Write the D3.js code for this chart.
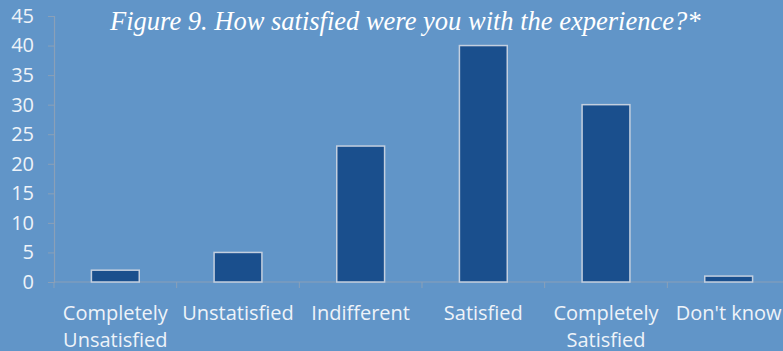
<!DOCTYPE html>
<html>
<head>
<meta charset="utf-8">
<script src="https://cdn.jsdelivr.net/npm/d3@7"></script>
<style>
  html, body { margin: 0; padding: 0; background: #6195c8; overflow: hidden; }
  svg { display: block; }
  text { font-variant-ligatures: none; }
</style>
</head>
<body>
<svg id="chart" width="783" height="351"></svg>
<script>
// Survey responses: satisfaction with the experience
const categories = [
  ["Completely", "Unsatisfied"],
  ["Unstatisfied"],
  ["Indifferent"],
  ["Satisfied"],
  ["Completely", "Satisfied"],
  ["Don't know"]
];
const values = [2, 5, 23, 40, 30, 1];
const yTicks = [0, 5, 10, 15, 20, 25, 30, 35, 40, 45];
const title = "Figure 9. How satisfied were you with the experience?*";

const svg = d3.select("#chart");
const W = 783, H = 351;
const labelFont = "'Open Sans', Lato, sans-serif";

svg.append("rect").attr("width", W).attr("height", H).attr("fill", "#6195c8");

const x = d3.scaleBand()
  .domain(d3.range(categories.length))
  .range([54, 790])
  .paddingInner(0.61)
  .paddingOuter(0.305);

const y = d3.scaleLinear().domain([0, 45]).range([282, 16]);

// Y axis
const yAxis = svg.append("g")
  .attr("transform", "translate(54,0)")
  .call(d3.axisLeft(y).tickValues(yTicks).tickSize(6).tickPadding(14));
yAxis.select(".domain").attr("stroke", "#8aa0b8").attr("stroke-width", 1.2);
yAxis.selectAll(".tick line").attr("stroke", "#8aa0b8");
yAxis.selectAll(".tick text")
  .attr("fill", "#eef3f9")
  .style("font-family", labelFont)
  .style("font-size", "20px");

// X axis baseline and category separators
const xb = d3.scaleLinear().domain([0, categories.length]).range([54, 790]);
svg.append("line")
  .attr("x1", 54).attr("x2", 790)
  .attr("y1", y(0)).attr("y2", y(0))
  .attr("stroke", "#8aa0b8").attr("stroke-width", 1.2);
svg.selectAll(".sep")
  .data(d3.range(categories.length + 1))
  .join("line")
  .attr("class", "sep")
  .attr("x1", d => xb(d)).attr("x2", d => xb(d))
  .attr("y1", y(0)).attr("y2", y(0) + 6)
  .attr("stroke", "#8aa0b8");

// Bars
svg.selectAll(".bar")
  .data(values)
  .join("rect")
  .attr("class", "bar")
  .attr("x", (d, i) => x(i))
  .attr("width", x.bandwidth())
  .attr("y", d => y(d))
  .attr("height", d => y(0) - y(d))
  .attr("fill", "#1a4f8d")
  .attr("stroke", "#c3cfdf")
  .attr("stroke-width", 1.5);

// Category labels
const labels = svg.selectAll(".cat")
  .data(categories)
  .join("text")
  .attr("class", "cat")
  .attr("text-anchor", "middle")
  .attr("fill", "#eef3f9")
  .style("font-family", labelFont)
  .style("font-size", "20px");
labels.selectAll("tspan")
  .data((d, i) => d.map(s => ({ s, i })))
  .join("tspan")
  .attr("x", d => x(d.i) + x.bandwidth() / 2)
  .attr("y", (d, j) => 320 + j * 27)
  .text(d => d.s);

// Title
svg.append("text")
  .attr("x", 110).attr("y", 30)
  .attr("fill", "#ffffff")
  .style("font-family", "'Liberation Serif', 'Times New Roman', serif")
  .style("font-style", "italic")
  .style("font-size", "26.5px")
  .text(title);
</script>
</body>
</html>
